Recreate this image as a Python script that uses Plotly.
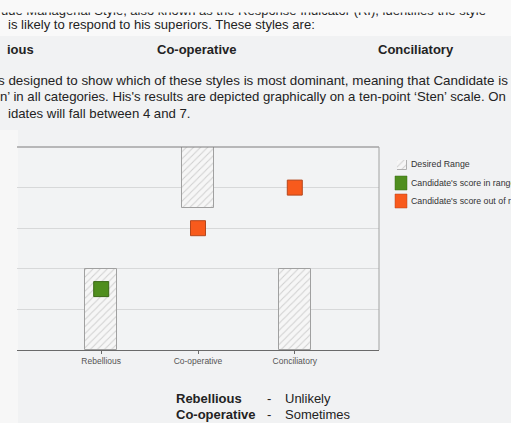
import plotly.graph_objects as go

W, H = 511, 423

# ---------------- data ----------------
categories = ["Rebellious", "Co-operative", "Conciliatory"]
range_low = [0, 7, 0]
range_high = [4, 10, 4]
scores = [3, 6, 8]

legend_labels = ["Desired Range", "Candidate's score in range", "Candidate's score out of range"]
summary_styles = ["Rebellious", "Co-operative"]
summary_levels = ["Unlikely", "Sometimes"]

heading_styles = ["ious", "Co-operative", "Conciliatory"]
intro_top = "ude Managerial Style, also known as the Response Indicator (RI), identifies the style"
intro_line2 = "is likely to respond to his superiors. These styles are:"
para_lines = [
    "s designed to show which of these styles is most dominant, meaning that Candidate is",
    "n\u2019 in all categories. His's results are depicted graphically on a ten-point \u2018Sten\u2019 scale. On",
    "idates will fall between 4 and 7.",
]

# ---------------- styles ----------------
FONT = "Liberation Sans, Arial, sans-serif"
TXT = "#232323"
GREEN, GREEN_EDGE = "#4f8e1e", "#3a6816"
ORANGE, ORANGE_EDGE = "#f85a1c", "#b4471d"
HATCH = dict(shape="/", fgcolor="#aaaaaa", bgcolor="#f6f6f6", size=5, solidity=0.2)

in_range = [lo <= s <= hi for lo, hi, s in zip(range_low, range_high, scores)]
colors = [GREEN if ok else ORANGE for ok in in_range]
edges = [GREEN_EDGE if ok else ORANGE_EDGE for ok in in_range]


def px(x):
    return x / W


def py(y):
    return 1 - y / H


fig = go.Figure()

# desired ranges (hatched bars)
fig.add_trace(go.Bar(
    x=categories,
    y=[hi - lo for lo, hi in zip(range_low, range_high)],
    base=range_low,
    width=0.33,
    marker=dict(color="#f6f6f6", line=dict(color="#a0a0a0", width=1), pattern=HATCH),
    showlegend=False, hoverinfo="skip",
))

# candidate scores
fig.add_trace(go.Scatter(
    x=categories, y=scores, mode="markers",
    marker=dict(symbol="square", size=15, color=colors, line=dict(color=edges, width=1)),
    showlegend=False, hoverinfo="skip",
))

# legend swatch for hatched range (own tiny axes)
fig.add_trace(go.Bar(
    x=[0], y=[1], width=1, xaxis="x2", yaxis="y2",
    marker=dict(color="#f6f6f6", line=dict(color="#b0b0b0", width=1), pattern=HATCH),
    showlegend=False, hoverinfo="skip",
))

# top line of text, upper half hidden (clipped by its own axes)
fig.add_trace(go.Scatter(
    x=[1], y=[12.2], xaxis="x3", yaxis="y3", mode="text",
    text=[intro_top], textposition="middle right", cliponaxis=True,
    textfont=dict(family=FONT, size=13, color=TXT),
    showlegend=False, hoverinfo="skip",
))

shapes = [
    # lighter page strip left of plot
    dict(type="rect", xref="paper", yref="paper", x0=0, x1=px(18), y0=py(423), y1=py(130),
         fillcolor="#f7f7f7", line=dict(width=0), layer="below"),
    # whiter top of page
    dict(type="rect", xref="paper", yref="paper", x0=0, x1=1, y0=py(36), y1=1,
         fillcolor="#f9f9f9", line=dict(width=0), layer="below"),
    # plot frame: top and right
    dict(type="line", xref="x domain", yref="y domain", x0=0, x1=1, y0=1, y1=1,
         line=dict(color="#7c7c7c", width=1)),
    dict(type="line", xref="x domain", yref="y domain", x0=1, x1=1, y0=0, y1=1,
         line=dict(color="#a2a2a2", width=1)),
    # legend colour swatches
    dict(type="rect", xref="paper", yref="paper", x0=px(395), x1=px(407), y0=py(190), y1=py(176),
         fillcolor=GREEN, line=dict(color=GREEN_EDGE, width=0.5)),
    dict(type="rect", xref="paper", yref="paper", x0=px(395), x1=px(407), y0=py(208), y1=py(194),
         fillcolor=ORANGE, line=dict(color=ORANGE_EDGE, width=0.5)),
]

annotations = []


def note(text, x, y, size=13, bold=False, color=TXT, anchor="left"):
    annotations.append(dict(
        text=f"<b>{text}</b>" if bold else text,
        x=px(x), y=py(y), xref="paper", yref="paper",
        xanchor=anchor, yanchor="middle", showarrow=False,
        font=dict(family=FONT, size=size, color=color),
    ))


note(intro_line2, 5.5, 25, size=13.1)
note(heading_styles[0], 5, 50, bold=True)
note(heading_styles[1], 155, 50, bold=True)
note(heading_styles[2], 376, 50, bold=True)
for line, yy, xx, fs in zip(para_lines, [80, 96.5, 113], [-4.5, -2, 6], [13.4, 13.2, 13.2]):
    note(line, xx, yy, size=fs)

for i, (style, level) in enumerate(zip(summary_styles, summary_levels)):
    yy = 398 + i * 16
    note(style, 174, yy, bold=True)
    note("-", 265, yy)
    note(level, 283, yy)

for lab, yy in zip(legend_labels, [164, 183, 201]):
    note(lab, 409, yy, size=8.8, color="#333333")

fig.update_layout(
    width=W, height=H,
    margin=dict(l=0, r=0, t=0, b=0, autoexpand=False),
    paper_bgcolor="#f1f2f3",
    plot_bgcolor="#f2f3f4",
    showlegend=False,
    bargap=0,
    shapes=shapes,
    annotations=annotations,
    font=dict(family=FONT),
    xaxis=dict(
        domain=[px(17), px(379)], range=[-0.87, 2.87], type="category",
        showline=True, linecolor="#6a6a6a", linewidth=1,
        ticks="outside", ticklen=3, tickcolor="#6a6a6a", tickwidth=1,
        tickfont=dict(family=FONT, size=8.5, color="#555555"),
        showgrid=False, zeroline=False, fixedrange=True,
    ),
    yaxis=dict(
        domain=[py(350), py(147)], range=[0, 10], dtick=2, tick0=0,
        showgrid=True, gridcolor="#d7d8d9", gridwidth=1,
        showticklabels=False, ticks="", showline=False, zeroline=False, fixedrange=True,
    ),
    xaxis2=dict(domain=[px(397), px(407)], range=[-0.5, 0.5], visible=False, anchor="y2",
                fixedrange=True),
    yaxis2=dict(domain=[py(170), py(160)], range=[0, 1], visible=False, anchor="x2",
                fixedrange=True),
    xaxis3=dict(domain=[0, 1], range=[0, W], visible=False, anchor="y3", fixedrange=True),
    yaxis3=dict(domain=[py(20), py(12.5)], range=[20, 12.5], visible=False, anchor="x3",
                fixedrange=True),
)

fig.write_html(
    "out.html",
    config={"displayModeBar": False},
    post_script="document.body.style.margin='0';document.body.style.overflow='hidden';",
)
